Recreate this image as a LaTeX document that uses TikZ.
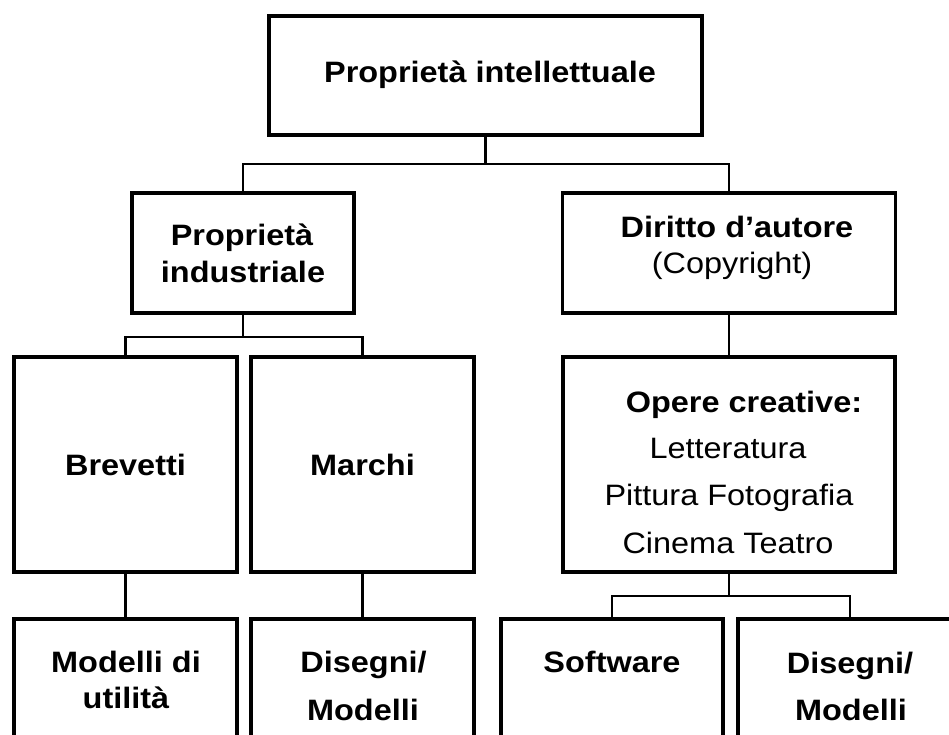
\documentclass[tikz,border=0pt]{standalone}
\usepackage{fontspec}
\setmainfont[FakeStretch=1.1]{Liberation Sans}
\begin{document}
\begin{tikzpicture}[x=1pt,y=-1pt,
  box/.style={draw=black, line width=3.6pt, fill=none, inner sep=0pt, outer sep=0pt},
  lbl/.style={inner sep=0pt, outer sep=0pt, anchor=base, font=\fontsize{29.5}{35}\selectfont},
  blbl/.style={lbl, font=\fontsize{29.5}{35}\selectfont\bfseries},
  conn/.style={draw=black, line width=2.2pt}]
\useasboundingbox (0,0) rectangle (949,735);
\clip (0,0) rectangle (949,735);
% boxes
\node[box, minimum width=433pt, minimum height=119pt] (top) at (485.5,75.5) {};
\node[box, minimum width=222pt, minimum height=120pt] (ind) at (243,253) {};
\node[box, minimum width=333pt, minimum height=120pt] (dir) at (729,253) {};
\node[box, minimum width=223pt, minimum height=215pt] (bre) at (125.5,464.5) {};
\node[box, minimum width=223pt, minimum height=215pt] (mar) at (362.5,464.5) {};
\node[box, minimum width=332pt, minimum height=215pt] (ope) at (729,464.5) {};
\node[box, minimum width=223pt, minimum height=160pt] (mod) at (125.5,699) {};
\node[box, minimum width=223pt, minimum height=160pt] (dis) at (362.5,699) {};
\node[box, minimum width=222pt, minimum height=160pt] (sof) at (612,699) {};
\node[box, minimum width=224pt, minimum height=160pt] (dis2) at (850,699) {};
% labels
\node[blbl] (t1) at (490,83) {Proprietà intellettuale};
\node[blbl] (i1) at (242,245) {Proprietà};
\node[blbl] (i2) at (243,282) {industriale};
\node[blbl] (d1) at (737,237) {Diritto d’autore};
\node[lbl] (d2) at (732,273) {(Copyright)};
\node[blbl] (b1) at (125.5,475) {Brevetti};
\node[blbl] (m1) at (362.5,475) {Marchi};
\node[blbl] (o1) at (744,412) {Opere creative:};
\node[lbl] (o2) at (728,458) {Letteratura};
\node[lbl] (o3) at (729,505) {Pittura Fotografia};
\node[lbl] (o4) at (728,553) {Cinema Teatro};
\node[blbl] (u1) at (126,672) {Modelli di};
\node[blbl] (u2) at (126,708) {utilità};
\node[blbl] (g1) at (363.5,672) {Disegni/};
\node[blbl] (g2) at (363,720) {Modelli};
\node[blbl] (s1) at (612,672) {Software};
\node[blbl] (h1) at (850,673) {Disegni/};
\node[blbl] (h2) at (851,720) {Modelli};
% junction levels
\coordinate (j1) at (0,164);
\coordinate (j2) at (0,337);
\coordinate (j3) at (0,596);
% connectors
\draw[conn] (top.south) -- (top.south |- j1);
\draw[conn] (top.south |- j1) -| (ind.north);
\draw[conn] (top.south |- j1) -| (dir.north);
\draw[conn] (ind.south) -- (ind.south |- j2);
\draw[conn] (ind.south |- j2) -| (bre.north);
\draw[conn] (ind.south |- j2) -| (mar.north);
\draw[conn] (dir.south) -- (ope.north);
\draw[conn] (bre.south) -- (mod.north);
\draw[conn] (mar.south) -- (dis.north);
\draw[conn] (ope.south) -- (ope.south |- j3);
\draw[conn] (ope.south |- j3) -| (sof.north);
\draw[conn] (ope.south |- j3) -| (dis2.north);
\end{tikzpicture}
\end{document}
